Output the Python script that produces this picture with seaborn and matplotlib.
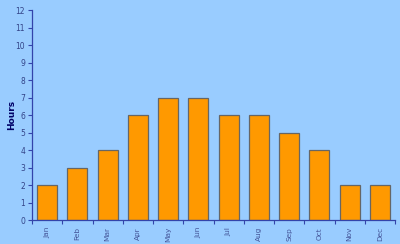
import matplotlib
matplotlib.use("Agg")
import matplotlib.pyplot as plt
import seaborn as sns
import numpy as np
import pandas as pd

months = ["Jan", "Feb", "Mar", "Apr", "May", "Jun", "Jul", "Aug", "Sep", "Oct", "Nov", "Dec"]
hours = [2, 3, 4, 6, 7, 7, 6, 6, 5, 4, 2, 2]
y_ticks = list(range(0, 13))

bg = "#99CCFF"
sns.set_style("white")
plt.rcParams['font.family'] = ['DejaVu Sans']

fig = plt.figure(figsize=(4, 2.44), dpi=100)
fig.patch.set_facecolor(bg)
ax = fig.add_axes([0.08, 0.098, 0.9075, 0.861])
ax.set_facecolor(bg)

df = pd.DataFrame({"Month": months, "Hours": hours})
sns.barplot(data=df, x="Month", y="Hours", color="#FF9900", saturation=1,
            width=0.66, edgecolor="#666666", linewidth=0.9, ax=ax)

ax.set_xlim(-0.5, len(months) - 0.5)
ax.set_ylim(0, 12)
ax.set_yticks(y_ticks)
ax.set_yticklabels([str(v) for v in y_ticks], fontsize=5.5, color="#334488")
ax.set_xticks(range(len(months)))
ax.set_xticklabels(months, rotation=90, fontsize=5.3, color="#445599")
ax.set_xticks(np.arange(-0.5, len(months) + 0.5, 1), minor=True)
ax.tick_params(axis="x", which="major", length=0, pad=5, bottom=True)
ax.tick_params(axis="x", which="minor", length=3, color="#3344AA", width=0.8,
               direction="out", bottom=True)
ax.tick_params(axis="y", length=3, color="#3344AA", width=0.8, direction="out",
               pad=2, left=True)

for s in ["top", "right"]:
    ax.spines[s].set_visible(False)
for s in ["left", "bottom"]:
    ax.spines[s].set_color("#3344AA")
    ax.spines[s].set_linewidth(0.9)

ax.set_xlabel("")
ax.set_ylabel("Hours", fontsize=6.5, fontweight="bold", color="#000066")
ax.yaxis.set_label_coords(-0.045, 0.5)

fig.savefig("out.png", dpi=100, facecolor=bg)
